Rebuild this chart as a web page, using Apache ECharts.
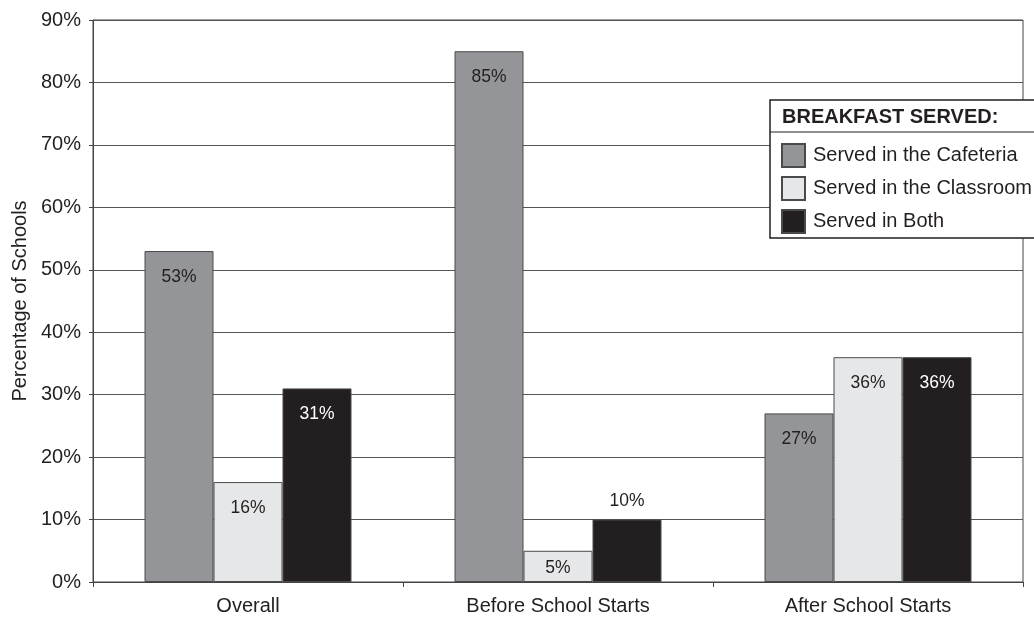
<!DOCTYPE html>
<html>
<head>
<meta charset="utf-8">
<script src="https://cdn.jsdelivr.net/npm/echarts@6/dist/echarts.min.js"></script>
<style>html,body{margin:0;padding:0;background:#fff}#c{width:1034px;height:618px}</style>
</head>
<body>
<div id="c"></div>
<script>
var categories = ['Overall', 'Before School Starts', 'After School Starts'];
var seriesNames = ['Served in the Cafeteria', 'Served in the Classroom', 'Served in Both'];
var cafeteria = [53, 85, 27];
var classroom = [16, 5, 36];
var both = [31, 10, 36];
var yTicks = [0, 10, 20, 30, 40, 50, 60, 70, 80, 90];

var font = 'Liberation Sans, Arial, sans-serif';
var txt = '#231f20';
var colors = ['#939598', '#e6e7e8', '#231f20'];
var labelColors = [txt, txt, '#ffffff'];

function mkData(vals, idx) {
  return vals.map(function (v, i) {
    var d = { value: v };
    if (idx === 2 && i === 1) {
      d.label = { position: 'top', distance: 9, color: txt };
    } else if (idx === 1 && i === 1) {
      d.label = { distance: 8 };
    }
    return d;
  });
}

var all = [cafeteria, classroom, both];
var series = all.map(function (vals, idx) {
  return {
    name: seriesNames[idx],
    type: 'bar',
    barWidth: 69,
    barGap: 0,
    data: mkData(vals, idx),
    itemStyle: { color: colors[idx], borderColor: '#4a4a4a', borderWidth: 1 },
    label: {
      show: true,
      position: 'insideTop',
      distance: 17,
      formatter: '{c}%',
      fontFamily: font,
      fontSize: 17.5,
      color: labelColors[idx]
    },
    z: 5
  };
});

var chart = echarts.init(document.getElementById('c'));
chart.setOption({
  animation: false,
  backgroundColor: '#ffffff',
  grid: { left: 93, right: 11, top: 20, bottom: 36, show: true, borderColor: '#444', borderWidth: 1 },
  xAxis: {
    type: 'category',
    data: categories,
    axisLine: { lineStyle: { color: '#444', width: 1 } },
    axisTick: { show: true, length: 5, inside: false, lineStyle: { color: '#444' } },
    axisLabel: { fontFamily: font, fontSize: 20, color: txt, margin: 14 }
  },
  yAxis: {
    type: 'value',
    min: yTicks[0],
    max: yTicks[yTicks.length - 1],
    interval: 10,
    name: 'Percentage of Schools',
    nameLocation: 'middle',
    nameGap: 63,
    nameTextStyle: { fontFamily: font, fontSize: 20, color: txt },
    axisLine: { show: true, lineStyle: { color: '#444', width: 1 } },
    axisTick: { show: true, length: 4, lineStyle: { color: '#444' } },
    axisLabel: { formatter: '{value}%', fontFamily: font, fontSize: 20, color: txt, margin: 12 },
    splitLine: { show: true, lineStyle: { color: '#555', width: 1 } }
  },
  graphic: [
    {
      type: 'rect', z: 50,
      shape: { x: 770, y: 100, width: 320, height: 138 },
      style: { fill: '#ffffff', stroke: '#231f20', lineWidth: 1.5 }
    },
    {
      type: 'line', z: 51,
      shape: { x1: 770, y1: 132, x2: 1034, y2: 132 },
      style: { stroke: '#231f20', lineWidth: 1.2 }
    },
    {
      type: 'text', z: 51, x: 782, y: 117,
      style: { text: 'BREAKFAST SERVED:', fontFamily: font, fontSize: 20, fontWeight: 'bold', fill: txt, verticalAlign: 'middle' }
    }
  ],
  legend: {
    z: 60,
    orient: 'vertical',
    left: 781,
    top: 143,
    itemWidth: 23,
    itemHeight: 23,
    itemGap: 8,
    icon: 'rect',
    padding: 0,
    data: seriesNames,
    textStyle: { fontFamily: font, fontSize: 20, color: txt, padding: [0, 0, 0, 3] }
  },
  series: series
});
</script>
</body>
</html>
